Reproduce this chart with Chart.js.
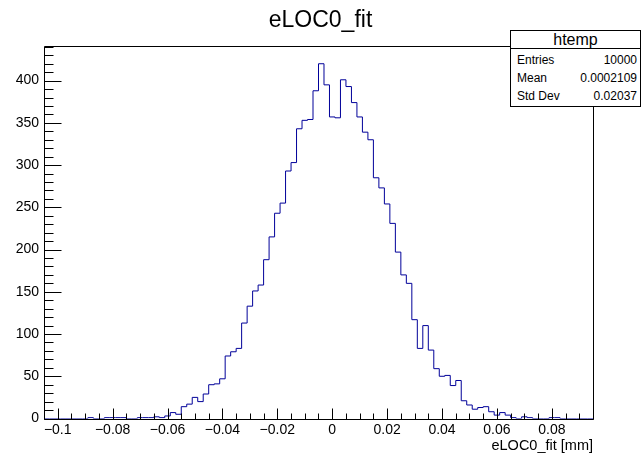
<!DOCTYPE html>
<html>
<head>
<meta charset="utf-8">
<title>eLOC0_fit</title>
<script src="https://cdn.jsdelivr.net/npm/chart.js@4.4.1/dist/chart.umd.min.js"></script>
<style>
  html, body { margin: 0; padding: 0; background: #fff; }
  #wrap { position: relative; width: 641px; height: 456px; font-family: "Liberation Sans", Arial, sans-serif; color: #000; }
  #plot { position: absolute; left: 0; top: 0; width: 641px; height: 456px; }
  #title { position: absolute; left: 0; top: 5px; width: 641px; text-align: center; font-size: 23px; line-height: 28px; }
  #stats { position: absolute; left: 510px; top: 30px; width: 129px; height: 75px; border: 1px solid #000; background: #fff; font-size: 12px; }
  #stats .head { position: absolute; left: 0; top: 0; width: 100%; height: 17px; border-bottom: 1px solid #000; text-align: center; font-size: 16px; line-height: 18px; }
  #stats .row { position: absolute; left: 6px; right: 3px; height: 14px; line-height: 14px; }
  #stats .row span:last-child { float: right; }
</style>
</head>
<body>
<div id="wrap">
  <canvas id="plot" width="641" height="456"></canvas>
  <div id="title">eLOC0_fit</div>
  <div id="stats">
    <div class="head">htemp</div>
    <div class="row" style="top:22px"><span>Entries</span><span>10000</span></div>
    <div class="row" style="top:40px"><span>Mean</span><span>0.0002109</span></div>
    <div class="row" style="top:58px"><span>Std Dev</span><span>0.02037</span></div>
  </div>
</div>
<script>
// histogram binning: 100 bins between xMin and xMax
const xMin = -0.105;
const xMax = 0.095;
const binCounts = [
  0, 0, 0, 0, 0, 0, 0, 0, 1, 0,
  0, 1, 1, 1, 1, 0, 0, 1, 1, 1,
  2, 1, 3, 7, 5, 14, 17, 25, 20, 29,
  40, 41, 47, 74, 79, 83, 113, 133, 151, 158,
  188, 215, 243, 255, 293, 303, 343, 353, 354, 388,
  420, 395, 357, 356, 401, 393, 374, 357, 339, 330,
  285, 273, 254, 231, 197, 170, 160, 117, 83, 110,
  81, 59, 50, 51, 39, 45, 21, 16, 11, 13,
  14, 8, 4, 7, 4, 1, 0, 2, 1, 0,
  0, 0, 1, 1, 0, 0, 0, 0, 0, 0
];
const xTickValues = [-0.1, -0.08, -0.06, -0.04, -0.02, 0, 0.02, 0.04, 0.06, 0.08];
const xTickLabels = ['\u22120.1', '\u22120.08', '\u22120.06', '\u22120.04', '\u22120.02', '0', '0.02', '0.04', '0.06', '0.08'];
const yTickValues = [0, 50, 100, 150, 200, 250, 300, 350, 400];
const yMax = 441;

const fontFamily = '"Liberation Sans", Arial, sans-serif';
const binWidth = (xMax - xMin) / binCounts.length;

// outline points: each bin starts at its lower edge, closed to zero at both ends
const outline = [{x: xMin, y: 0}];
binCounts.forEach((c, i) => outline.push({x: xMin + i * binWidth, y: c}));
outline.push({x: xMax, y: 0});

// frame plus inward ticks, drawn after the histogram
const histFrame = {
  id: 'histFrame',
  afterDatasetsDraw(chart) {
    const {ctx, chartArea, scales} = chart;
    const left = Math.round(chartArea.left) + 0.5;
    const right = Math.round(chartArea.right) + 0.5;
    const top = Math.round(chartArea.top) + 0.5;
    const bottom = Math.round(chartArea.bottom) + 0.5;
    ctx.save();
    ctx.strokeStyle = '#000';
    ctx.lineWidth = 1;
    ctx.beginPath();
    ctx.rect(left, top, right - left, bottom - top);
    const xStep = 0.005;
    for (let k = Math.ceil(xMin / xStep - 1e-9); k * xStep <= xMax + 1e-9; k++) {
      const px = Math.round(scales.x.getPixelForValue(k * xStep)) + 0.5;
      const len = k % 4 === 0 ? 11 : 6;
      ctx.moveTo(px, bottom);
      ctx.lineTo(px, bottom - len);
    }
    for (let k = 0; k * 10 <= yMax; k++) {
      const py = Math.round(scales.y.getPixelForValue(k * 10)) + 0.5;
      const len = k % 5 === 0 ? 17 : 9;
      ctx.moveTo(left, py);
      ctx.lineTo(left + len, py);
    }
    ctx.stroke();
    ctx.restore();
  }
};

new Chart(document.getElementById('plot'), {
  type: 'line',
  data: {
    datasets: [{
      data: outline,
      stepped: 'before',
      borderColor: '#000099',
      borderWidth: 1,
      pointRadius: 0,
      fill: false
    }]
  },
  options: {
    responsive: false,
    animation: false,
    layout: { padding: { left: 0, right: 48, top: 46, bottom: 0 } },
    plugins: { legend: { display: false }, tooltip: { enabled: false } },
    scales: {
      x: {
        type: 'linear',
        min: xMin,
        max: xMax,
        afterBuildTicks: s => { s.ticks = xTickValues.map(v => ({value: v})); },
        afterFit: s => { s.height = 37.5; },
        grid: { display: false, drawTicks: false },
        border: { display: false },
        ticks: {
          autoSkip: false,
          maxRotation: 0,
          padding: 3,
          color: '#000',
          font: { family: fontFamily, size: 14 },
          callback: (v, i) => xTickLabels[i]
        },
        title: {
          display: true,
          text: 'eLOC0_fit [mm]',
          align: 'end',
          color: '#000',
          font: { family: fontFamily, size: 14.5 },
          padding: { top: 0, bottom: 1 }
        }
      },
      y: {
        min: 0,
        max: yMax,
        afterBuildTicks: s => { s.ticks = yTickValues.map(v => ({value: v})); },
        afterFit: s => { s.width = 44; },
        grid: { display: false, drawTicks: false },
        border: { display: false },
        ticks: {
          padding: 5,
          color: '#000',
          font: { family: fontFamily, size: 14 },
          callback: v => String(v)
        }
      }
    }
  },
  plugins: [histFrame]
});
</script>
</body>
</html>
